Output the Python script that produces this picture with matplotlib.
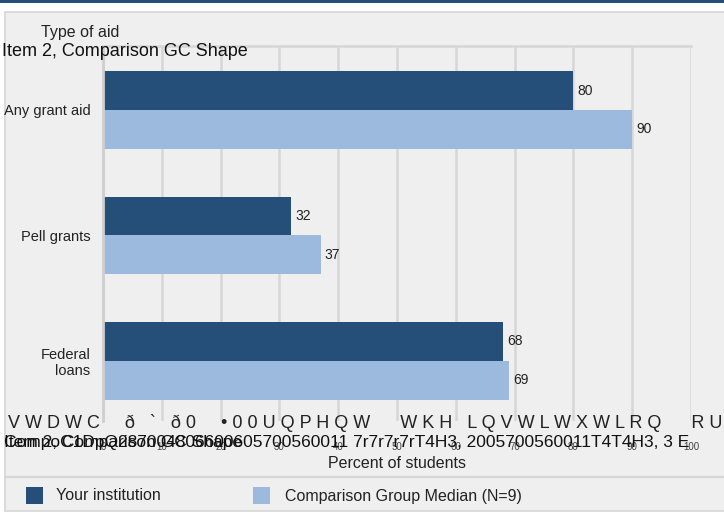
import matplotlib
matplotlib.use("Agg")
import matplotlib.pyplot as plt
from matplotlib.patches import Rectangle
from matplotlib.lines import Line2D

plt.rcParams["font.family"] = ["Liberation Sans", "DejaVu Sans"]

# data
CATEGORIES = ["Any grant aid", "Pell grants", "Federal\nloans"]
YOUR_INSTITUTION = [80, 32, 68]
COMPARISON_MEDIAN = [90, 37, 69]
X_TICKS = [0, 10, 20, 30, 40, 50, 60, 70, 80, 90, 100]
SERIES_LABELS = ["Your institution", "Comparison Group Median (N=9)"]

DARK = "#254e78"
LIGHT = "#9bbade"
PANEL = "#efefef"
GRID = "#d6d6d6"

W, H = 724, 512


def fx(x):
    return x / W


def fy(y):
    return 1 - y / H


fig = plt.figure(figsize=(W / 100, H / 100), dpi=100)
fig.patch.set_facecolor("white")

# top band and panel
fig.patches.append(Rectangle((0, fy(2.5)), 1, 2.5 / H, transform=fig.transFigure,
                             facecolor=DARK, edgecolor="none", zorder=-5))
fig.patches.append(Rectangle((fx(5), fy(511)), 1, 499 / H, transform=fig.transFigure,
                             facecolor=PANEL, edgecolor=GRID, linewidth=1.2, zorder=-5))
fig.lines.append(Line2D([fx(5), 1], [fy(477), fy(477)], transform=fig.transFigure,
                        color=GRID, linewidth=1.5, zorder=-4))

ax = fig.add_axes([fx(103), fy(421), 588 / W, 375 / H])
ax.set_facecolor(PANEL)

pos = list(range(len(CATEGORIES)))
bh = 0.31
bars1 = ax.barh([p - bh / 2 for p in pos], YOUR_INSTITUTION, height=bh, color=DARK)
bars2 = ax.barh([p + bh / 2 for p in pos], COMPARISON_MEDIAN, height=bh, color=LIGHT)
for bars, vals in ((bars1, YOUR_INSTITUTION), (bars2, COMPARISON_MEDIAN)):
    for b, v in zip(bars, vals):
        ax.annotate(f"{v}", (v, b.get_y() + b.get_height() / 2), xytext=(3, 0),
                    textcoords="offset points", va="center", ha="left", fontsize=10,
                    color="#222222")

ax.set_xlim(0, 100)
ax.set_ylim(2.48, -0.51)
ax.set_xticks(X_TICKS)
ax.xaxis.grid(True, color=GRID, linewidth=1.8)
ax.set_axisbelow(True)
ax.set_yticks(pos)
ax.set_yticklabels(CATEGORIES, fontsize=10.5, ha="right", color="#222222")
ax.tick_params(axis="y", length=0, pad=9)
ax.tick_params(axis="x", length=0, pad=15, labelsize=7, labelcolor="#444444")
for side in ("right", "bottom"):
    ax.spines[side].set_visible(False)
ax.spines["left"].set_color("#cfcfcf")
ax.spines["left"].set_linewidth(2)
ax.spines["top"].set_color(GRID)
ax.spines["top"].set_linewidth(1.8)

# header texts
fig.text(fx(41), fy(32), "Type of aid", fontsize=11.5, va="center", ha="left", color="#222222")
fig.text(fx(2), fy(51), "Item 2, Comparison GC Shape", fontsize=13, va="center", ha="left",
         color="#111111")

# overlapping footer texts
fig.text(fx(8), fy(423), "V W D W C     ð   `   ð 0     • 0 0 U Q P H Q W      W K H   L Q V W L W X W L R Q      R U   R",
         fontsize=13, va="center", ha="left", color="#222222")
fig.text(fx(4), fy(443), "Item 2, Comparison GC Shape", fontsize=12.5, va="center", ha="left",
         color="#111111")
fig.text(fx(4), fy(443), "CompoC1DpQ287004806600605700560011 7r7r7r7rT4H3, 2005700560011T4T4H3, 3 E",
         fontsize=12.5, va="center", ha="left", color="#111111")
fig.text(fx(397), fy(463), "Percent of students", fontsize=11.5, va="center", ha="center",
         color="#222222")

# legend
fig.patches.append(Rectangle((fx(26), fy(504)), 17 / W, 17 / H, transform=fig.transFigure,
                             facecolor=DARK, edgecolor="none"))
fig.text(fx(56), fy(496), SERIES_LABELS[0], fontsize=11.5, va="center", ha="left", color="#222222")
fig.patches.append(Rectangle((fx(253), fy(504)), 17 / W, 17 / H, transform=fig.transFigure,
                             facecolor=LIGHT, edgecolor="none"))
fig.text(fx(285), fy(496), SERIES_LABELS[1], fontsize=11.5, va="center", ha="left", color="#222222")

fig.savefig("out.png", dpi=100)
